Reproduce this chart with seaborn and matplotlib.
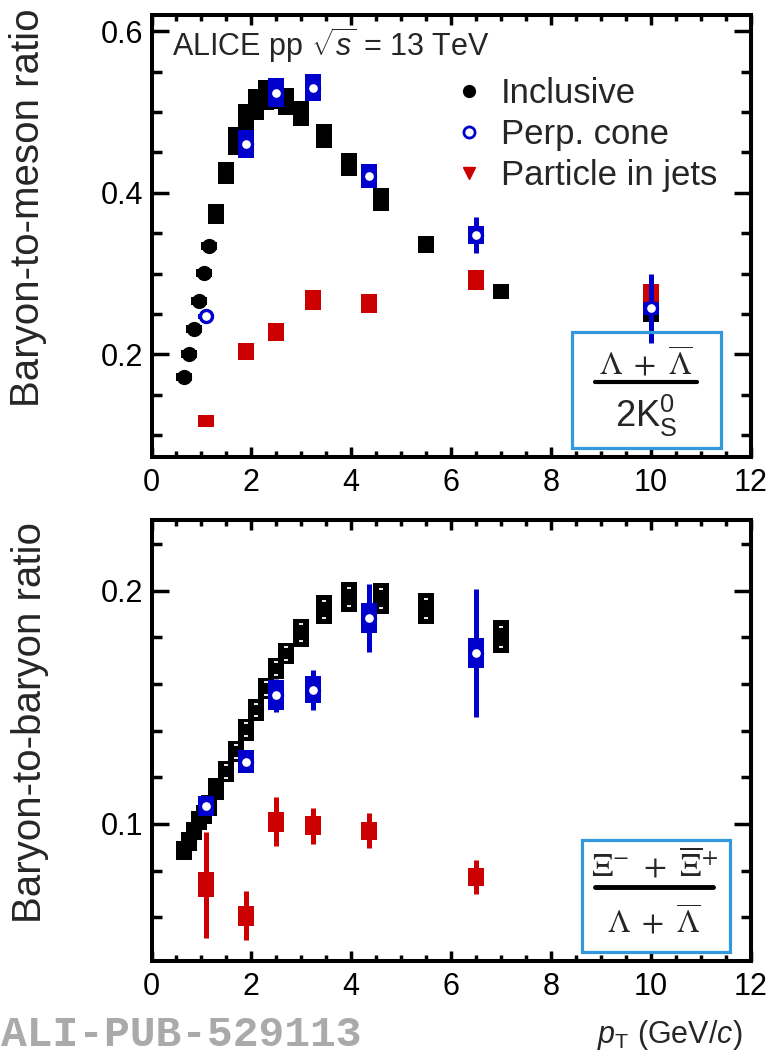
import matplotlib
matplotlib.use("Agg")
import matplotlib.pyplot as plt
import seaborn as sns
import numpy as np
from matplotlib.lines import Line2D
from matplotlib.patches import Rectangle
from matplotlib.ticker import MultipleLocator

# ---------------- Lambda / K0S (painel de cima) ----------------
pt_incl_lk = [0.65, 0.75, 0.85, 0.95, 1.05, 1.15, 1.3, 1.5, 1.7, 1.9, 2.1, 2.3, 2.5, 2.7,
              3.0, 3.45, 3.95, 4.6, 5.5, 7.0, 10.0]
val_incl_lk = [0.172, 0.200, 0.231, 0.266, 0.301, 0.334, 0.374, 0.425, 0.464, 0.494, 0.509,
               0.521, 0.522, 0.513, 0.498, 0.470, 0.435, 0.392, 0.336, 0.278, 0.250]
sys_incl_lk = [0.005, 0.005, 0.005, 0.005, 0.005, 0.005, 0.0124, 0.0136, 0.017, 0.016, 0.019,
               0.018, 0.018, 0.017, 0.016, 0.015, 0.014, 0.014, 0.011, 0.0095, 0.010]

pt_perp_lk = [1.1, 1.9, 2.5, 3.24, 4.35, 6.5, 10.0]
val_perp_lk = [0.247, 0.460, 0.524, 0.530, 0.421, 0.348, 0.257]
sys_perp_lk = [0.003, 0.0175, 0.018, 0.017, 0.015, 0.011, 0.008]
stat_perp_lk = [0.002, 0.003, 0.004, 0.005, 0.008, 0.022, 0.043]

pt_jet_lk = [1.1, 1.9, 2.5, 3.24, 4.35, 6.5, 10.0]
val_jet_lk = [0.117, 0.203, 0.228, 0.267, 0.263, 0.292, 0.271]
sys_jet_lk = [0.0075, 0.0105, 0.011, 0.012, 0.012, 0.012, 0.016]
stat_jet_lk = [0.001, 0.002, 0.003, 0.004, 0.005, 0.008, 0.020]

# ---------------- Xi / Lambda (painel de baixo) ----------------
pt_incl_xl = [0.65, 0.75, 0.85, 0.95, 1.05, 1.15, 1.3, 1.5, 1.7, 1.9, 2.1, 2.3, 2.5, 2.7,
              3.0, 3.45, 3.95, 4.6, 5.5, 7.0]
val_incl_xl = [0.0885, 0.0925, 0.097, 0.1015, 0.104, 0.108, 0.115, 0.1224, 0.131, 0.1403,
               0.1488, 0.158, 0.1667, 0.1731, 0.1819, 0.1919, 0.1973, 0.1965, 0.1922, 0.1802]
sys_incl_xl = [0.004, 0.004, 0.004, 0.004, 0.004, 0.0045, 0.0046, 0.0046, 0.0046, 0.0046,
               0.0046, 0.0046, 0.0046, 0.0046, 0.006, 0.0062, 0.0064, 0.0066, 0.0066, 0.007]

pt_perp_xl = [1.1, 1.9, 2.5, 3.24, 4.35, 6.5]
val_perp_xl = [0.1078, 0.1267, 0.1552, 0.1574, 0.1881, 0.1731]
sys_perp_xl = [0.0043, 0.0049, 0.0064, 0.0058, 0.0064, 0.0064]
stat_perp_xl = [0.002, 0.003, 0.0071, 0.0086, 0.0146, 0.0274]

pt_jet_xl = [1.1, 1.9, 2.5, 3.24, 4.35, 6.5]
val_jet_xl = [0.0739, 0.0606, 0.101, 0.0993, 0.097, 0.0773]
sys_jet_xl = [0.0054, 0.0041, 0.0043, 0.0041, 0.004, 0.004]
stat_jet_xl = [0.0228, 0.0105, 0.0104, 0.0077, 0.0075, 0.0073]

sns.set_theme(style="ticks")
plt.rcParams["font.family"] = ["Liberation Sans", "DejaVu Sans"]
plt.rcParams["mathtext.fontset"] = "custom"
plt.rcParams["mathtext.rm"] = "Liberation Sans"
plt.rcParams["mathtext.it"] = "Liberation Sans:italic"
plt.rcParams["mathtext.bf"] = "Liberation Sans:bold"

PRETO = "black"
AZUL = "#0000cc"
VERMELHO = "#cc0000"
CAIXA = "#3399dd"
LARG = 0.32  # largura das caixas de sistematica (GeV/c)
W, H = 769, 1056


def caixas(ax, x, y, meia, cor, z):
    y = np.asarray(y)
    meia = np.asarray(meia)
    ax.bar(x, 2 * meia, bottom=y - meia, width=LARG, color=cor, linewidth=0, zorder=z)


def painel(ax, incl, perp, jet, ymin, ymax, ymaj, ymin_loc):
    pt_i, v_i, s_i = incl
    # inclusivo: caixas pretas + circulos em baixo pT
    caixas(ax, pt_i, v_i, s_i, PRETO, 2)
    baixo = [k for k, p in enumerate(pt_i) if p < 1.2]
    sns.scatterplot(x=[pt_i[k] for k in baixo], y=[v_i[k] for k in baixo], ax=ax,
                    marker="o", s=120, color=PRETO, linewidth=0, zorder=3, legend=False)

    # particulas em jatos
    pt_j, v_j, s_j, e_j = jet
    ax.errorbar(pt_j, v_j, yerr=e_j, fmt="none", ecolor=VERMELHO, elinewidth=3.6,
                capsize=0, zorder=4)
    caixas(ax, pt_j, v_j, s_j, VERMELHO, 5)

    # cone perpendicular
    pt_p, v_p, s_p, e_p = perp
    ax.errorbar(pt_p, v_p, yerr=e_p, fmt="none", ecolor=AZUL, elinewidth=3.6,
                capsize=0, zorder=6)
    caixas(ax, pt_p, v_p, s_p, AZUL, 7)
    sns.scatterplot(x=pt_p, y=v_p, ax=ax, marker="o", s=75, color="white",
                    edgecolor=AZUL, linewidth=2.4, zorder=8, legend=False)

    ax.set_xlim(0, 12)
    ax.set_ylim(ymin, ymax)
    ax.xaxis.set_major_locator(MultipleLocator(2))
    ax.xaxis.set_minor_locator(MultipleLocator(0.5))
    ax.yaxis.set_major_locator(MultipleLocator(ymaj))
    ax.yaxis.set_minor_locator(MultipleLocator(ymin_loc))
    ax.tick_params(which="both", direction="in", top=True, right=True, width=2.5,
                   labelsize=22, colors="black")
    ax.tick_params(axis="x", which="major", length=7.5, pad=8)
    ax.tick_params(axis="x", which="minor", length=4.5)
    ax.tick_params(axis="y", which="major", length=12, pad=6)
    ax.tick_params(axis="y", which="minor", length=7)
    for sp in ax.spines.values():
        sp.set_linewidth(2.9)
        sp.set_color("black")
        sp.set_zorder(10)
    ax.set_xlabel("")
    ax.set_ylabel("")


fig = plt.figure(figsize=(W / 100, H / 100), dpi=100)
ax1 = fig.add_axes([151.5 / W, 1 - 457 / H, 599 / W, 442 / H])
ax2 = fig.add_axes([151.5 / W, 1 - 961 / H, 599 / W, 441 / H])

painel(ax1, (pt_incl_lk, val_incl_lk, sys_incl_lk),
       (pt_perp_lk, val_perp_lk, sys_perp_lk, stat_perp_lk),
       (pt_jet_lk, val_jet_lk, sys_jet_lk, stat_jet_lk),
       0.0729, 0.62, 0.2, 0.05)
painel(ax2, (pt_incl_xl, val_incl_xl, sys_incl_xl),
       (pt_perp_xl, val_perp_xl, sys_perp_xl, stat_perp_xl),
       (pt_jet_xl, val_jet_xl, sys_jet_xl, stat_jet_xl),
       0.0413, 0.2302, 0.1, 0.02)

# tracinhos brancos dentro das caixas inclusivas (painel de baixo)
alto = [k for k, p in enumerate(pt_incl_xl) if p > 1.4]
for sinal in (-1, 1):
    ax2.scatter([pt_incl_xl[k] for k in alto],
                [val_incl_xl[k] + sinal * 0.6 * sys_incl_xl[k] for k in alto],
                marker="_", s=12, color="white", linewidths=1.3, zorder=3)

# legenda
alca = [Line2D([], [], ls="", marker="o", ms=8.5, color=PRETO),
        Line2D([], [], ls="", marker="o", ms=8, mfc="white", mec=AZUL, mew=2),
        Line2D([], [], ls="", marker="v", ms=9, color=VERMELHO)]
ax1.legend(alca, ["Inclusive", "Perp. cone", "Particle in jets"], loc="upper left",
           bbox_to_anchor=((459 - 151.5) / 599, (457 - 77) / 442), frameon=False,
           fontsize=25, handlelength=0.6, handletextpad=0.6, labelspacing=0.23,
           borderpad=0, borderaxespad=0)

ax1.text((172 - 151.5) / 599, (457 - 45) / 442, r"ALICE pp $\sqrt{s}$ = 13 TeV",
         transform=ax1.transAxes, fontsize=22, va="center", ha="left")

# caixas com as razoes
def fx(px):
    return px / W


def fy(py):
    return 1 - py / H


fig.add_artist(Rectangle((fx(572), fy(448)), 149 / W, 116 / H, transform=fig.transFigure,
                         fill=False, edgecolor=CAIXA, linewidth=2.3))
fig.text(fx(646), fy(364), r"$\Lambda\ +\ \overline{\Lambda}$", math_fontfamily="stix",
         fontsize=23, ha="center", va="center")
fig.add_artist(Line2D([fx(595), fx(697)], [fy(381.5), fy(381.5)], transform=fig.transFigure,
                      color="black", linewidth=3))
fig.text(fx(646), fy(416), r"2K$^{0}_{\rm S}$", fontsize=26, ha="center", va="center")

fig.add_artist(Rectangle((fx(582), fy(952)), 148 / W, 112 / H, transform=fig.transFigure,
                         fill=False, edgecolor=CAIXA, linewidth=2.3))
fig.text(fx(654), fy(866), r"$\Xi^{-}\ +\ \overline{\Xi}^{+}$", math_fontfamily="stix",
         fontsize=24, ha="center", va="center")
fig.add_artist(Line2D([fx(595), fx(713)], [fy(887), fy(887)], transform=fig.transFigure,
                      color="black", linewidth=3.5))
fig.text(fx(654), fy(922), r"$\Lambda\ +\ \overline{\Lambda}$", math_fontfamily="stix",
         fontsize=23, ha="center", va="center")

# titulos dos eixos
fig.text(fx(28), fy(8), "Baryon-to-meson ratio", rotation=90, fontsize=29,
         ha="center", va="top")
fig.text(fx(30), fy(522), "Baryon-to-baryon ratio", rotation=90, fontsize=29,
         ha="center", va="top")
fig.text(fx(742), fy(1035), r"$p_{\rm T}$ (GeV/$c$)", fontsize=22, ha="right", va="center")

fig.text(fx(1), fy(1035), "ALI-PUB-529113", fontfamily="Liberation Mono",
         fontweight="bold", color="#aaaaaa", fontsize=31, ha="left", va="center")

fig.savefig("out.png", dpi=100)
